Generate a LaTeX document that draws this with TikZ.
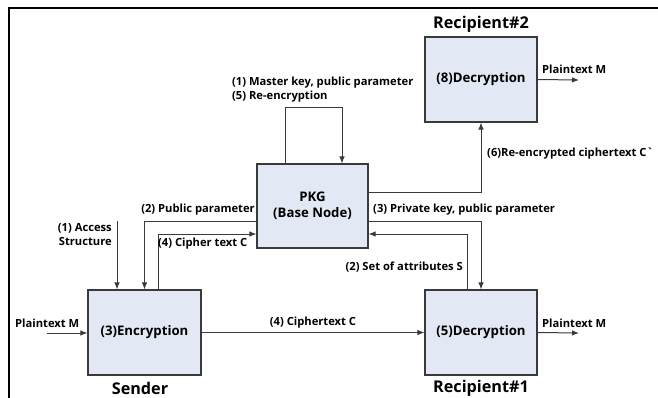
\documentclass[tikz,border=0pt]{standalone}
\usepackage{fontspec}
\setmainfont{Open Sans}
\usetikzlibrary{arrows.meta,calc}
\definecolor{boxfill}{HTML}{E3E9F4}
\definecolor{lncol}{HTML}{3A3A3A}
\tikzset{
  blk/.style={draw=lncol,line width=1.1pt,fill=boxfill,minimum width=112pt,minimum height=85pt,inner sep=0pt,font=\fontsize{13.2}{16}\selectfont\bfseries,align=center},
  ttl/.style={font=\fontsize{16.2}{19}\selectfont\bfseries,inner sep=0pt},
  lbl/.style={font=\fontsize{11.2}{13.5}\selectfont\bfseries,inner sep=0pt,align=left},
  arr/.style={draw=lncol,line width=1pt,-{Latex[length=7pt,width=5.5pt]}}
}
\begin{document}
\begin{tikzpicture}[x=1pt,y=-1pt]
\useasboundingbox (0,0) rectangle (658,398);
\draw[line width=1.3pt,black] (9,398) -- (9,8) -- (658,8);

\node[blk,minimum width=111pt,minimum height=84pt] (pkg) at (312.5,206) {PKG\\(Base Node)};
\node[blk,minimum width=113pt] (snd) at (144.5,332.5) {(3)Encryption};
\node[blk] (r1) at (481,332.5) {(5)Decryption};
\node[blk] (r2) at (481,79.5) {(8)Decryption};

\node[ttl] (tr2) at (481,24) {Recipient\#2};
\node[ttl] (tsnd) at (140,388) {Sender};
\node[ttl] (tr1) at (481,388) {Recipient\#1};

% loop on PKG
\draw[arr] ([xshift=-27.5pt]pkg.north) -- ++(0,-56) -| ([xshift=29.5pt]pkg.north);
\node[lbl,anchor=west] (lloop) at (232,89.5) {(1) Master key, public parameter\\(5) Re-encryption};

% PKG -> R2
\draw[arr] ([yshift=13pt]pkg.east) -| (r2.south);
\node[lbl,anchor=west] (l6) at (487,154) {(6)Re-encrypted ciphertext C\textasciigrave};

% R2 -> plaintext
\coordinate (po2) at (579,80);
\draw[arr] (r2.east) -- (po2);
\node[lbl,anchor=west] (lp2) at (542,69) {Plaintext M};

% PKG -> R1
\draw[arr] ([yshift=-15pt]pkg.east) -| (r1.north);
\node[lbl,anchor=west] (l3) at (373,210) {(3) Private key, public parameter};

% R1 -> PKG
\draw[arr] ([xshift=-14pt]r1.north) |- ([yshift=-28pt]pkg.east);
\node[lbl,anchor=east] (l2s) at (463,267) {(2) Set of attributes S};

% PKG -> Sender
\draw[arr] ([yshift=-15pt]pkg.west) -| (snd.north);
\node[lbl,anchor=east] (l2p) at (255,210) {(2) Public parameter};

% Sender -> PKG
\draw[arr] ([xshift=13.5pt]snd.north) |- ([yshift=-28pt]pkg.west);
\node[lbl,anchor=west] (l4c) at (158,244) {(4) Cipher text C};

% access structure
\coordinate (acc) at (117,221);
\draw[arr] (acc) -- (acc |- snd.north);
\node[lbl,anchor=east,align=right] (lacc) at (112,234.5) {(1) Access\\Structure};

% plaintext in
\coordinate (pin) at (47,333);
\draw[arr] (pin) -- (pin -| snd.west);
\node[lbl,anchor=west] (lpin) at (15,323) {Plaintext M};

% Sender -> R1
\draw[arr] (snd.east) -- (r1.west);
\node[lbl] (l4) at (313,323) {(4) Ciphertext C};

% R1 -> plaintext
\coordinate (po1) at (579,333);
\draw[arr] (r1.east) -- (po1);
\node[lbl,anchor=west] (lp1) at (542,323) {Plaintext M};
\end{tikzpicture}
\end{document}
